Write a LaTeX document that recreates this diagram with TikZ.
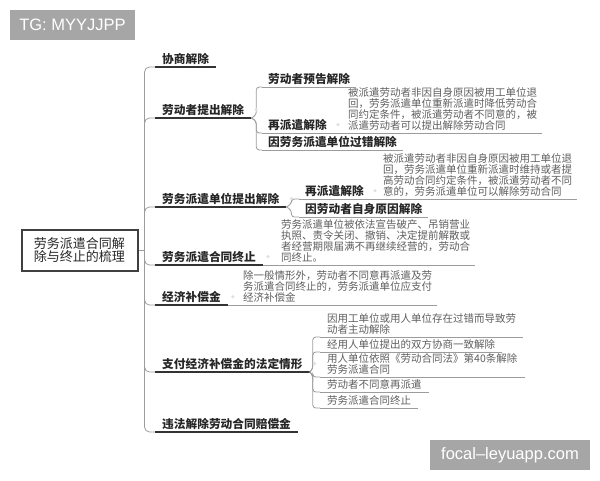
\documentclass[tikz,border=0pt]{standalone}
\usepackage{fontspec}
\usepackage{xcolor}
\usetikzlibrary{positioning,calc}
\newfontfamily\cjk{Noto Sans CJK SC}
\newfontfamily\wmfont{Liberation Sans}
\definecolor{wmgray}{HTML}{A6A6A6}
\definecolor{linegray}{HTML}{9C9C9C}
\definecolor{descgray}{HTML}{5E5E5E}

\begin{document}
\begin{tikzpicture}[x=1pt,y=-1pt,
  topic/.style={anchor=south west,inner xsep=7pt,inner ysep=2.5pt,
    font=\cjk\bfseries\fontsize{11.7}{12}\selectfont,text=black!85},
  subtopic/.style={topic,inner xsep=6pt},
  desc/.style={anchor=south west,inner xsep=5pt,inner ysep=2pt,align=left,
    text=descgray,font=\cjk\fontsize{10.5}{11}\selectfont},
  item/.style={desc,inner xsep=7pt},
  mainline/.style={line width=1.6pt,black!80},
  subline/.style={line width=0.8pt,linegray},
  trunk/.style={line width=0.8pt,linegray,rounded corners=5pt},
  bracket/.style={line width=0.8pt,linegray,rounded corners=3pt},
  knob/.style={circle,fill=black!12,inner sep=0pt,minimum size=3.5pt},
  wm/.style={fill=wmgray,text=white,font=\wmfont\fontsize{16.5}{18}\selectfont,
    inner sep=0pt,minimum height=30pt}]
\useasboundingbox (0,0) rectangle (600,480);

% watermarks
\node[wm,minimum width=125pt] (tg) at (72.5,25) {TG: MYYJJPP};
\node[wm,minimum width=160pt] (site) at (510,455) {focal–leyuapp.com};

% root
\node[draw=black!75,line width=2pt,minimum width=116pt,minimum height=41pt,
  align=center,font=\cjk\fontsize{13}{13.5}\selectfont,text=black!85]
  (root) at (79.5,250) {劳务派遣合同解\\除与终止的梳理};
\coordinate (hub) at ([xshift=6pt]root.east);
\draw[subline] (root.east) -- (hub);

% main topics
\node[topic] (xieshang) at (155,67) {协商解除};
\node[topic] (laodongzhe) at (155,118) {劳动者提出解除};
\node[topic] (danwei) at (155,207) {劳务派遣单位提出解除};
\node[topic] (zhongzhi) at (155,265) {劳务派遣合同终止};
\node[topic] (buchang) at (155,305) {经济补偿金};
\node[topic] (qingxing) at (155,372) {支付经济补偿金的法定情形};
\node[topic] (peichang) at (155,432) {违法解除劳动合同赔偿金};
\foreach \n in {xieshang,laodongzhe,danwei,zhongzhi,buchang,qingxing,peichang}{
  \draw[trunk] (hub) |- (\n.south west);
  \draw[mainline] (\n.south west) -- (\n.south east);
}

% laodongzhe tijie
\node[subtopic] (yugao) at (262,87) {劳动者预告解除};
\node[subtopic] (zaipaiA) at (262,133) {再派遣解除};
\node[subtopic] (guocuo) at (262,150) {因劳务派遣单位过错解除};
\node[desc] (zaipaiAtxt) at (343,133) {被派遣劳动者非因自身原因被用工单位退\\
  回，劳务派遣单位重新派遣时降低劳动合\\同约定条件，被派遣劳动者不同意的，被\\
  派遣劳动者可以提出解除劳动合同};
\draw[bracket] (laodongzhe.south east) -- ++(5,-3) |- (yugao.south west);
\draw[bracket] (laodongzhe.south east) -- ++(5,3) |- (zaipaiA.south west);
\draw[bracket] (laodongzhe.south east) -- ++(5,3) |- (guocuo.south west);
\draw[subline] (yugao.south west) -- (yugao.south east);
\draw[subline] (zaipaiA.south west) -- (zaipaiAtxt.south east);
\draw[subline] (guocuo.south west) -- (guocuo.south east);

% danwei tijie
\node[subtopic] (zaipaiB) at (299,199) {再派遣解除};
\node[subtopic] (zishen) at (299,217) {因劳动者自身原因解除};
\node[desc] (zaipaiBtxt) at (378,199) {被派遣劳动者非因自身原因被用工单位退\\
  回，劳务派遣单位重新派遣时维持或者提\\高劳动合同约定条件，被派遣劳动者不同\\
  意的，劳务派遣单位可以解除劳动合同};
\draw[bracket] (danwei.south east) -- ++(5,-3) |- (zaipaiB.south west);
\draw[bracket] (danwei.south east) -- ++(5,3) |- (zishen.south west);
\draw[subline] (zaipaiB.south west) -- (zaipaiBtxt.south east);
\draw[subline] (zishen.south west) -- (zishen.south east);

% zhongzhi, buchang
\node[desc] (zhongzhitxt) at (276,265) {劳务派遣单位被依法宣告破产、吊销营业\\
  执照、责令关闭、撤销、决定提前解散或\\者经营期限届满不再继续经营的，劳动合\\同终止。};
\draw[subline] (zhongzhi.south east) -- (zhongzhitxt.south east);
\node[desc] (buchangtxt) at (238,305) {除一般情形外，劳动者不同意再派遣及劳\\
  务派遣合同终止的，劳务派遣单位应支付\\经济补偿金};
\draw[subline] (buchang.south east) -- (buchangtxt.south east);

% qingxing
\node[item] (qx1) at (320,337) {因用工单位或用人单位存在过错而导致劳\\动者主动解除};
\node[item] (qx2) at (320,352) {经用人单位提出的双方协商一致解除};
\node[item] (qx3) at (320,377) {用人单位依照《劳动合同法》第40条解除\\劳务派遣合同};
\node[item] (qx4) at (320,392) {劳动者不同意再派遣};
\node[item] (qx5) at (320,408) {劳务派遣合同终止};
\draw[bracket] (qingxing.south east) -- ++(3,-3) |- (qx1.south west);
\draw[bracket] (qingxing.south east) -- ++(3,-3) |- (qx2.south west);
\foreach \n in {qx3,qx4,qx5}
  \draw[bracket] (qingxing.south east) -- ++(3,3) |- (\n.south west);
\foreach \n in {qx1,qx2,qx3,qx4,qx5}
  \draw[subline] (\n.south west) -- (\n.south east);

% collapse knobs
\foreach \n in {laodongzhe,danwei,zhongzhi,buchang,qingxing,zaipaiA,zaipaiB}
  \node[knob] at ([xshift=5pt]\n.east) {};
\end{tikzpicture}
\end{document}
